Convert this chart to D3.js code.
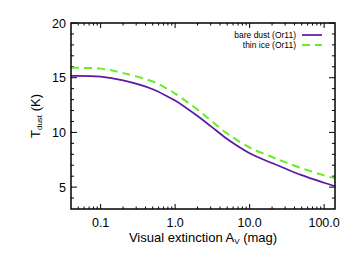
<!DOCTYPE html>
<html>
<head>
<meta charset="utf-8">
<script src="https://cdn.jsdelivr.net/npm/d3@7"></script>
<style>
  body { margin: 0; background: #fff; }
  text { font-family: "Liberation Sans", Arial, sans-serif; }
</style>
</head>
<body>
<div id="chart"></div>
<script>
// visual extinction (mag)
var av = [0.04, 0.1, 0.2, 0.5, 0.8, 1, 2, 3, 5, 10, 20, 30, 50, 100, 140];
// dust temperature (K)
var bareDust = [15.17, 15.1, 14.75, 13.95, 13.27, 12.92, 11.5, 10.58, 9.4, 8.1, 7.2, 6.7, 6.1, 5.4, 5.08];
var thinIce  = [15.9, 15.83, 15.42, 14.65, 13.95, 13.55, 12.08, 11.1, 9.9, 8.62, 7.75, 7.28, 6.73, 6.07, 5.8];
var xTicks = [0.1, 1, 10, 100];
var xTickLabels = ["0.1", "1.0", "10.0", "100.0"];
var yTicks = [5, 10, 15, 20];

var width = 357,
    height = 255,
    margin = {top: 23, right: 22, bottom: 46, left: 71};

var svg = d3.select("#chart").append("svg")
    .attr("width", width)
    .attr("height", height);

var x = d3.scaleLog().domain([0.04, 140]).range([margin.left, width - margin.right]);
var y = d3.scaleLinear().domain([3, 20]).range([height - margin.bottom, margin.top]);

var x0 = x.range()[0], x1 = x.range()[1], y0 = y.range()[0], y1 = y.range()[1];

// minor ticks for the log axis
var xMinor = [];
[0.01, 0.1, 1, 10, 100].forEach(function(d){
  for (var k = 2; k <= 9; k++) {
    var v = d * k;
    if (v > 0.04 && v < 140) xMinor.push(v);
  }
});
var yMinor = d3.range(4, 20);

var ticks = svg.append("g").attr("stroke", "#000").attr("stroke-width", 1);

// bottom + top
xTicks.forEach(function(d){
  ticks.append("line").attr("x1", x(d)).attr("x2", x(d)).attr("y1", y0).attr("y2", y0 - 5);
  ticks.append("line").attr("x1", x(d)).attr("x2", x(d)).attr("y1", y1).attr("y2", y1 + 5);
});
xMinor.forEach(function(d){
  ticks.append("line").attr("x1", x(d)).attr("x2", x(d)).attr("y1", y0).attr("y2", y0 - 2.5);
  ticks.append("line").attr("x1", x(d)).attr("x2", x(d)).attr("y1", y1).attr("y2", y1 + 2.5);
});
// left + right
yTicks.forEach(function(d){
  ticks.append("line").attr("y1", y(d)).attr("y2", y(d)).attr("x1", x0).attr("x2", x0 + 6);
  ticks.append("line").attr("y1", y(d)).attr("y2", y(d)).attr("x1", x1).attr("x2", x1 - 6);
});
yMinor.forEach(function(d){
  if (d % 5 === 0) return;
  ticks.append("line").attr("y1", y(d)).attr("y2", y(d)).attr("x1", x0).attr("x2", x0 + 3);
  ticks.append("line").attr("y1", y(d)).attr("y2", y(d)).attr("x1", x1).attr("x2", x1 - 3);
});

// tick labels
svg.selectAll(".xlab").data(xTicks).enter().append("text")
    .attr("x", function(d){ return x(d); })
    .attr("y", y0 + 18)
    .attr("text-anchor", "middle")
    .attr("font-size", 12.5)
    .text(function(d, i){ return xTickLabels[i]; });

svg.selectAll(".ylab").data(yTicks).enter().append("text")
    .attr("x", x0 - 5)
    .attr("y", function(d){ return y(d) + 4.5; })
    .attr("text-anchor", "end")
    .attr("font-size", 12.5)
    .text(function(d){ return d; });

// axis titles
var xt = svg.append("text")
    .attr("x", (x0 + x1) / 2)
    .attr("y", 242)
    .attr("text-anchor", "middle")
    .attr("font-size", 13);
xt.append("tspan").text("Visual extinction A");
xt.append("tspan").attr("font-size", 8).attr("dy", 2).text("V");
xt.append("tspan").attr("dy", -2).text(" (mag)");

var yt = svg.append("text")
    .attr("transform", "translate(40," + ((y0 + y1) / 2) + ") rotate(-90)")
    .attr("text-anchor", "middle")
    .attr("font-size", 13);
yt.append("tspan").text("T");
yt.append("tspan").attr("font-size", 8).attr("dy", 2).text("dust");
yt.append("tspan").attr("dy", -2).text(" (K)");

// curves
var line = d3.line()
    .x(function(d){ return x(d[0]); })
    .y(function(d){ return y(d[1]); })
    .curve(d3.curveCatmullRom.alpha(0.5));

svg.append("path")
    .datum(d3.zip(av, thinIce))
    .attr("d", line)
    .attr("fill", "none")
    .attr("stroke", "#66ee22")
    .attr("stroke-width", 2)
    .attr("stroke-dasharray", "8,5");

svg.append("path")
    .datum(d3.zip(av, bareDust))
    .attr("d", line)
    .attr("fill", "none")
    .attr("stroke", "#5a1aa0")
    .attr("stroke-width", 1.7);

// frame
svg.append("rect")
    .attr("x", x0).attr("y", y1)
    .attr("width", x1 - x0).attr("height", y0 - y1)
    .attr("fill", "none")
    .attr("stroke", "#000")
    .attr("stroke-width", 1.5);

// legend
var legend = [
  {label: "bare dust (Or11)", color: "#5a1aa0", dash: null},
  {label: "thin ice (Or11)", color: "#66ee22", dash: "8,5"}
];
var lg = svg.selectAll(".leg").data(legend).enter().append("g")
    .attr("transform", function(d, i){ return "translate(0," + (35 + i * 10) + ")"; });
lg.append("text")
    .attr("x", 296)
    .attr("y", 3)
    .attr("text-anchor", "end")
    .attr("font-size", 8.5)
    .text(function(d){ return d.label; });
lg.append("line")
    .attr("x1", 302).attr("x2", 322)
    .attr("stroke", function(d){ return d.color; })
    .attr("stroke-width", function(d){ return d.dash ? 2 : 1.7; })
    .attr("stroke-dasharray", function(d){ return d.dash; });
</script>
</body>
</html>
